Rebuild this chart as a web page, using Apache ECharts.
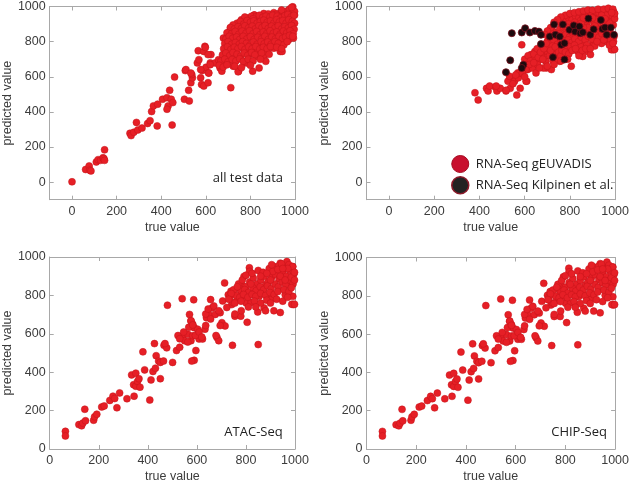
<!DOCTYPE html>
<html><head><meta charset="utf-8">
<script src="https://cdn.jsdelivr.net/npm/echarts@6/dist/echarts.min.js"></script>
<style>html,body{margin:0;padding:0;background:#fff}#c{width:632px;height:484px}</style>
</head><body><div id="c"></div>
<script>
// ---- data (true value, predicted value) ----
const allTestData = [
[0,2],[61,72],[77,92],[80,68],[85,64],[109,115],[117,128],[128,124],[139,139],[143,134],[146,184],[146,124],
[260,278],[265,265],[277,284],[289,340],[295,297],[314,308],[339,334],[350,350],[357,402],[365,434],[384,444],
[382,320],[406,472],[426,481],[431,434],[426,415],[438,523],[445,472],[452,453],[449,325],[460,598],
[508,635],[504,472],[526,462],[523,523],[533,566],[540,594],[537,613],[562,679],[569,697],[566,748],[591,744],
[596,773],[577,594],[581,556],[591,547],[584,635],[601,654],[613,622],[620,679],[623,726],[610,566],[642,679],
[657,697],[664,650],[672,632],[683,679],[689,722],[701,763],[708,861],[712,538],[730,744],[737,801],[747,632],
[752,838],[766,782],[774,744],[781,923],[788,895],[791,735],[796,679],[810,632],[818,951],[825,744],[832,782],
[839,650],[847,923],[861,716],[869,688],[876,744],[891,951],[905,763],[912,904],[934,744],[942,801],[971,810],
[993,820],[985,989],[998,951],[978,914],
[511,641],[533,621],[577,641],[598,767],[610,726],[613,621],[620,669],[679,820],[686,763],[693,698],[723,660],
[737,726],[745,628],[759,782],[774,914],[781,679],[796,726],[817,951],[832,716],[847,782],[942,744],[990,998],
[860,960],[905,965],[930,962],[950,970],[965,975],[975,985],[990,980],[998,972],[880,958],[940,980],[985,995],[915,955],
[790,935],[805,945],[825,940],[840,950],[855,938],[870,945],[888,940],[900,950],[920,945],[935,935],[955,948],
[968,955],[982,940],[995,950],[760,925],[775,940],[812,930],
[740,905],[755,915],[770,900],[785,920],[800,910],[815,918],[830,905],[845,915],[860,922],[875,910],[890,918],
[905,905],[918,925],[930,912],[945,920],[960,905],[972,925],[988,915],[998,905],[722,895],
[710,880],[728,872],[745,885],[760,875],[775,890],[792,878],[808,888],[822,872],[838,890],[852,880],[866,892],
[880,875],[895,888],[910,878],[925,890],[940,872],[955,885],[970,878],[985,892],[996,870],
[695,850],[715,845],[732,858],[748,842],[763,860],[780,848],[796,862],[812,845],[828,858],[843,840],[858,855],
[873,845],[888,862],[903,848],[918,855],[933,842],[948,860],[963,850],[978,862],[992,845],
[690,815],[705,830],[720,818],[738,826],[752,812],[768,830],[784,815],[800,828],[816,812],[833,825],[850,815],
[865,830],[880,812],[896,826],[912,815],[928,830],[944,818],[958,826],[975,835],[990,830],
[685,790],[700,800],[716,785],[733,795],[750,785],[765,800],[782,790],[798,780],[814,798],[830,785],[848,800],
[862,788],[878,798],[893,785],[910,800],[925,790],[950,782],[965,800],
[680,760],[697,770],[712,755],[728,768],[744,760],[760,772],[776,756],[792,770],[808,760],[824,772],[842,758],
[858,768],[875,760],[890,772],[918,768],[940,760],
[675,725],[690,735],[707,720],[722,738],[740,728],[757,718],[772,735],[788,722],[805,738],[820,725],[850,735],[884,728],
[668,690],[685,700],[700,685],[718,698],[735,690],[752,702],[768,688],[790,700],[812,690],[845,700],
[660,665],[678,655],[695,668],[730,660],[760,652],[800,665]
];
const gEuvadisData = [
[380,509],[394,468],[470,541],[477,519],[492,534],[517,519],[536,534],[565,496],[580,534],[540,575],[558,598],
[569,622],[587,782],[609,575],[613,641],[623,650],[630,707],[645,744],[652,669],[667,698],[674,782],[689,726],
[696,650],[704,810],[711,867],[718,641],[736,744],[747,801],[755,688],[776,716],[791,763],[806,660],[820,801],
[835,744],[857,716],[864,782],[879,744],[901,791],[908,820],[930,801],[988,791],[993,754],[984,754],[995,829],
[431,534],[438,519],[445,547],[474,547],[518,523],[526,575],[533,603],[555,575],[572,594],[577,622],[599,660],
[606,575],[613,688],[628,726],[635,650],[642,707],[650,622],[657,669],[672,726],[683,650],[693,688],[701,744],
[727,726],[730,782],[745,820],[752,716],[766,773],[774,838],[788,763],[818,876],[832,914],[847,744],[854,951],
[869,810],[891,726],[905,782],[920,820],[934,951],[964,970],[993,970],[993,801],[998,756],
[710,840],[725,860],[740,850],[755,870],[770,885],[785,860],[800,895],[815,880],[830,905],[845,890],[860,915],
[875,900],[890,930],[905,915],[920,940],[935,925],[950,955],[965,940],[980,960],[995,945],
[760,905],[780,920],[795,935],[810,925],[825,945],[840,935],[855,955],[870,945],[885,960],[900,950],[915,970],
[930,960],[945,975],[960,965],[975,980],[990,970],
[720,820],[738,830],[752,845],[768,820],[782,840],[798,825],[812,850],[828,830],[842,855],[858,840],[872,860],
[888,845],[902,870],[918,855],[932,880],[948,865],[962,890],[978,875],[992,895],
[700,800],[715,790],[730,805],[745,785],[762,800],[778,790],[792,810],[808,795],[822,815],[838,800],[852,825],
[868,810],[882,830],[898,815],[912,838],[928,825],[942,845],[958,830],[972,850],[986,835],
[690,770],[705,760],[722,775],[740,765],[758,780],[772,760],[788,778],[805,770],[820,780],[850,770],[875,780],
[910,775],[940,790],[965,800],[980,810],
[795,900],[822,910],[848,920],[878,925],[908,900],[938,905],[968,915],[988,925],[940,935],[960,920],[985,950],
[998,930],[880,880],[910,890],[950,900],[975,905],[860,880],[835,870],[808,860],[790,880],
[600,700],[615,720],[625,690],[640,730],[655,760],[660,710],[670,740],[680,700],[685,760],[695,790],[710,720],
[715,750],[725,690],[735,770],[742,700],[750,740],[760,720],[765,750],[780,740],[795,730],[810,750],[825,760],
[840,720],[855,750],[870,760],[890,760],[920,800],[950,810],[975,780],[990,790],[620,670],[605,640],[590,620],
[560,610],[548,560],[600,600],[640,680],[665,650],[700,660],[730,670],[760,690],[790,700],
[780,950],[800,960],[820,965],[840,970],[860,975],[880,980],[900,978],[925,985],[950,985],[970,990],[990,985],
[998,960],[760,940],[745,925],[730,910],[715,880],[700,860],[690,840],[960,950],[940,950],[920,925],[890,945],
[870,930],[850,905],[820,895],[860,935],[900,935],[955,930],[985,965]
];
const kilpinenData = [
[543,848],[587,852],[602,876],[623,852],[645,861],[663,857],[672,839],[672,786],[536,694],[517,626],[594,669],
[587,650],[711,829],[730,898],[725,711],[736,839],[762,782],[755,829],[776,791],[776,698],[769,898],[798,867],
[817,892],[823,857],[842,886],[846,848],[857,853],[882,932],[890,839],[905,870],[937,923],[944,872],[955,880],
[963,839],[981,880],[995,839]
];
const atacSeqData = [
[64,92],[64,68],[119,127],[130,121],[135,135],[146,147],[143,207],[179,150],[183,168],[192,181],[212,219],
[222,224],[245,253],[258,275],[265,263],[274,215],[285,292],[315,262],[344,275],[334,386],[351,395],[342,335],
[351,327],[358,352],[368,322],[364,366],[380,506],[387,412],[408,255],[413,360],[421,404],[427,549],[434,486],
[431,421],[444,458],[451,366],[451,451],[464,458],[466,540],[477,527],[501,451],
[480,749],[540,783],[587,777],[570,701],[576,667],[583,650],[589,632],[603,624],[517,513],[530,530],[543,590],
[550,564],[563,598],[576,564],[583,590],[589,462],[579,458],[596,513],[609,573],[623,573],[633,624],[639,684],
[649,701],[656,778],[662,735],[675,701],[682,581],[689,564],[695,710],[702,658],[713,865],[715,641],[728,803],
[745,540],[742,752],[755,692],[768,838],[779,692],[801,761],[805,660],[814,944],[848,714],[850,544],[874,735],
[901,803],[914,720],[940,711],[960,803],[993,752],[987,754],[998,754],[991,795],[980,855],
[470,549],[523,591],[530,574],[546,609],[563,557],[567,634],[576,668],[583,646],[594,591],[609,609],[620,583],
[636,643],[636,703],[646,729],[656,677],[669,745],[678,591],[689,720],[695,643],[705,771],[722,737],[735,796],
[739,822],[748,763],[755,703],[766,780],[781,720],[788,848],[792,899],[797,796],[815,925],[821,763],[834,831],
[854,796],[881,856],[901,780],[921,933],[940,968],[967,976],[991,950],
[770,860],[785,880],[800,845],[815,870],[830,890],[845,860],[860,880],[875,900],[890,870],[905,895],[920,910],
[935,885],[950,920],[965,900],[980,930],[995,910],
[800,905],[825,915],[850,930],[870,920],[895,940],[915,950],[935,955],[955,945],[975,960],[990,950],[945,965],
[970,940],[910,925],[885,915],
[780,820],[795,830],[810,815],[828,840],[842,825],[858,845],[872,830],[888,850],[903,835],[918,860],[932,845],
[948,870],[962,855],[978,880],[992,860],
[760,800],[775,790],[790,805],[808,790],[825,805],[840,795],[860,810],[880,800],[898,815],[915,805],[930,820],
[955,830],[975,820],[985,840],
[750,830],[765,845],[740,810],[730,780],[755,760],[780,770],[810,740],[835,770],[860,760],[885,775],[900,760],
[925,780],[950,770],[970,790],[880,720],[840,740],[820,860],[860,900],[900,880],[940,900],[960,880],[985,895],
[998,880],[998,920],[930,935],[905,960],[950,940]
];
// the CHIP-Seq panel in the reference shows the same point cloud as ATAC-Seq
const chipSeqData = atacSeqData.map(p => [p[0], p[1]]);

const xTickValues = [0, 200, 400, 600, 800, 1000];
const yTickValues = [0, 200, 400, 600, 800, 1000];
const panelLabels = ['all test data', 'ATAC-Seq', 'CHIP-Seq'];
const legendNames = ['RNA-Seq gEUVADIS', 'RNA-Seq Kilpinen et al.'];

// ---- styling ----
const AX = '#a8a8a8', TXT = '#3c3c3c';
const tickFont = {color: TXT, fontSize: 12.5, fontFamily: '"Liberation Sans", Arial, sans-serif'};
const grids = [
  {left: 43.5, top: 4.7, width: 251.5, height: 195},
  {left: 366.5, top: 4.7, width: 251.5, height: 195},
  {left: 43.5, top: 257, width: 251.5, height: 195},
  {left: 366.5, top: 257.5, width: 251.5, height: 195}
];
const mins = [-100, -100, 0, 0];
const fmt = v => String(v);
const xAxes = [], yAxes = [];
grids.forEach((g, i) => {
  const base = {type: 'value', gridIndex: i, min: mins[i], max: 1000, splitLine: {show: false},
    axisLine: {show: true, onZero: false, lineStyle: {color: AX, width: 1}}};
  xAxes.push(Object.assign({}, base, {position: 'bottom',
    axisTick: {show: true, inside: true, length: 4, customValues: xTickValues, lineStyle: {color: AX}},
    axisLabel: Object.assign({customValues: xTickValues, margin: 5, formatter: fmt}, tickFont),
    name: 'true value', nameLocation: 'middle', nameGap: 21, nameTextStyle: tickFont}));
  xAxes.push(Object.assign({}, base, {position: 'top',
    axisTick: {show: true, inside: true, length: 4, customValues: xTickValues, lineStyle: {color: AX}},
    axisLabel: {show: false}}));
  yAxes.push(Object.assign({}, base, {position: 'left',
    axisTick: {show: true, inside: true, length: 4, customValues: yTickValues, lineStyle: {color: AX}},
    axisLabel: Object.assign({customValues: yTickValues, margin: 4, formatter: fmt}, tickFont),
    name: 'predicted value', nameLocation: 'middle', nameGap: 30, nameTextStyle: tickFont}));
  yAxes.push(Object.assign({}, base, {position: 'right',
    axisTick: {show: true, inside: true, length: 4, customValues: yTickValues, lineStyle: {color: AX}},
    axisLabel: {show: false}}));
});

const redStyle = {color: '#e61f26', borderColor: '#c4141b', borderWidth: 0.5, opacity: 1};
const blackStyle = {color: '#1c0b0e', borderColor: '#7a0f1c', borderWidth: 0.8, opacity: 1};
function sc(name, data, gi, style) {
  return {type: 'scatter', name: name, data: data, xAxisIndex: gi * 2, yAxisIndex: gi * 2,
    symbolSize: 7, itemStyle: style, emphasis: {disabled: true}, animation: false};
}
const series = [
  sc('allTest', allTestData, 0, redStyle),
  sc(legendNames[0], gEuvadisData, 1, redStyle),
  sc(legendNames[1], kilpinenData, 1, blackStyle),
  sc('atac', atacSeqData, 2, redStyle),
  sc('chip', chipSeqData, 3, redStyle)
];
const annFont = {fontFamily: '"Open Sans", sans-serif', fontSize: 13, fill: '#222'};
const option = {
  animation: false,
  grid: grids,
  xAxis: xAxes,
  yAxis: yAxes,
  series: series,
  legend: {
    data: [
      {name: legendNames[0], itemStyle: {color: '#c8102e', borderColor: '#a50d22', borderWidth: 1}},
      {name: legendNames[1], itemStyle: {color: '#232323', borderColor: '#8b1a2a', borderWidth: 1.5}}
    ],
    orient: 'vertical', left: 451, top: 155, padding: 0, icon: 'circle', itemWidth: 17, itemHeight: 17, itemGap: 3,
    selectedMode: false,
    textStyle: {fontFamily: '"Open Sans", sans-serif', fontSize: 13, color: '#222', padding: [0, 0, 0, 2]}
  },
  graphic: [
    {type: 'text', x: 283, y: 178.5, style: Object.assign({text: panelLabels[0], align: 'right', verticalAlign: 'middle'}, annFont)},
    {type: 'text', x: 282.7, y: 432.7, style: Object.assign({text: panelLabels[1], align: 'right', verticalAlign: 'middle'}, annFont)},
    {type: 'text', x: 607, y: 432.7, style: Object.assign({text: panelLabels[2], align: 'right', verticalAlign: 'middle'}, annFont)}
  ]
};
echarts.init(document.getElementById('c'), null, {renderer: 'canvas'}).setOption(option);
</script></body></html>
